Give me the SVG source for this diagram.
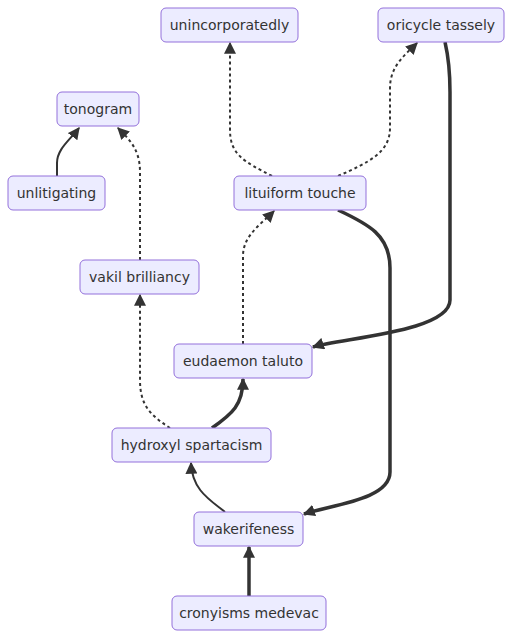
<svg xmlns="http://www.w3.org/2000/svg" width="512" height="638" viewBox="0 0 512 638">
<style>
.node rect{fill:#ECECFF;stroke:#9370DB;stroke-width:1}
.node text{font-family:"DejaVu Sans",Verdana,sans-serif;font-size:14px;fill:#333;text-anchor:middle;dominant-baseline:central}
.e{fill:none;stroke:#333}
.thin{stroke-width:2}
.thick{stroke-width:3.5}
.dot{stroke-width:2;stroke-dasharray:3 3}
</style>
<defs>
<marker id="arr" viewBox="0 0 10 10" refX="9" refY="5" markerWidth="12" markerHeight="12" markerUnits="userSpaceOnUse" orient="auto">
<path d="M0,0 L10,5 L0,10 z" fill="#333"/>
</marker>
</defs>
<rect width="512" height="638" fill="#fff"/>
<g id="edges">
<path class="e thin" d="M57,176 L57,163 C57,149 70,140 79,128" marker-end="url(#arr)"/>
<path class="e dot" d="M140,260 L140,172 C140,150 130,140 118,128" marker-end="url(#arr)"/>
<path class="e dot" d="M272,176 C245,162 230,155 230,130 L230,43" marker-end="url(#arr)"/>
<path class="e dot" d="M338,176 C370,162 390,152 390,128 L390,88 C390,66 405,55 417,43" marker-end="url(#arr)"/>
<path class="e thick" d="M445,42 C448,55 450,70 450,92 L450,300 C450,332 340,338 313,347" marker-end="url(#arr)"/>
<path class="e thick" d="M338,210 C368,224 390,235 390,268 L390,472 C390,500 330,505 304,514" marker-end="url(#arr)"/>
<path class="e dot" d="M243,344 L243,256 C243,236 260,225 274,211" marker-end="url(#arr)"/>
<path class="e dot" d="M170,428 C150,415 140,405 140,380 L140,295" marker-end="url(#arr)"/>
<path class="e thick" d="M212,428 C232,414 243,405 243,379" marker-end="url(#arr)"/>
<path class="e thin" d="M225,512 C210,500 192,490 191,463" marker-end="url(#arr)"/>
<path class="e thick" d="M249,596 L249,547" marker-end="url(#arr)"/>
</g>
<g id="unincorporatedly" class="node"><rect x="161" y="8" width="137" height="34" rx="5"/><text x="229.5" y="25">unincorporatedly</text></g>
<g id="oricycle_tassely" class="node"><rect x="378" y="8" width="126" height="34" rx="5"/><text x="441" y="25">oricycle tassely</text></g>
<g id="tonogram" class="node"><rect x="57" y="92" width="82" height="34" rx="5"/><text x="98" y="109">tonogram</text></g>
<g id="unlitigating" class="node"><rect x="8" y="176" width="97" height="34" rx="5"/><text x="56.5" y="193">unlitigating</text></g>
<g id="lituiform_touche" class="node"><rect x="234" y="176" width="132" height="34" rx="5"/><text x="300" y="193">lituiform touche</text></g>
<g id="vakil_brilliancy" class="node"><rect x="80" y="260" width="119" height="34" rx="5"/><text x="139.5" y="277">vakil brilliancy</text></g>
<g id="eudaemon_taluto" class="node"><rect x="174" y="344" width="138" height="34" rx="5"/><text x="243" y="361">eudaemon taluto</text></g>
<g id="hydroxyl_spartacism" class="node"><rect x="112" y="428" width="159" height="34" rx="5"/><text x="191.5" y="445">hydroxyl spartacism</text></g>
<g id="wakerifeness" class="node"><rect x="194" y="512" width="109" height="34" rx="5"/><text x="248.5" y="529">wakerifeness</text></g>
<g id="cronyisms_medevac" class="node"><rect x="172" y="596" width="154" height="34" rx="5"/><text x="249" y="613">cronyisms medevac</text></g>
</svg>
